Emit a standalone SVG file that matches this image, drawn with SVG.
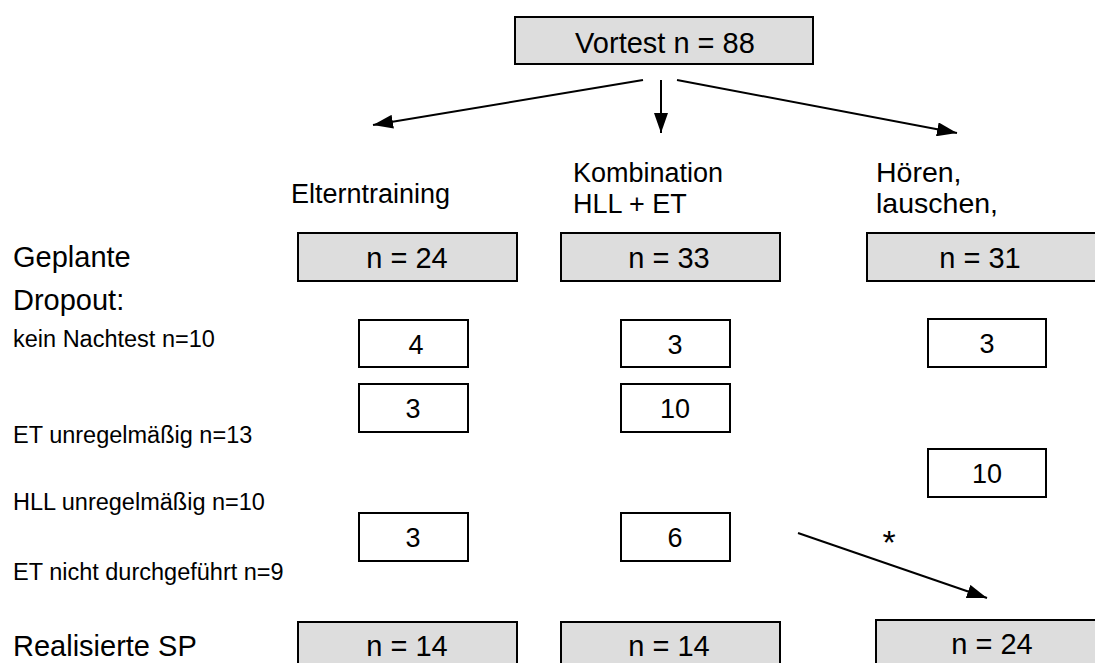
<svg xmlns="http://www.w3.org/2000/svg" width="1095" height="663" viewBox="0 0 1095 663">
<defs>
<marker id="ah" viewBox="0 0 20 14" refX="20" refY="7" markerWidth="20" markerHeight="14" markerUnits="userSpaceOnUse" orient="auto">
<path d="M0,0 L20,7 L0,14 Z" fill="#000"/>
</marker>
</defs>
<style>
text{font-family:"Liberation Sans",Arial,sans-serif;fill:#000}
.g{fill:#dddddd;stroke:#000;stroke-width:2}
.w{fill:#fff;stroke:#000;stroke-width:2}
.c{text-anchor:middle}
.big{font-size:29px}
.hd{font-size:27px}
.sm{font-size:23.5px}
.n{font-size:29px}
.d{font-size:27px}
.conn line{stroke:#000;stroke-width:2;marker-end:url(#ah)}
</style>
<rect width="1095" height="663" fill="#fff"/>

<g id="vortest">
<rect class="g" x="515" y="17" width="298" height="47"/>
<text class="big c" x="665" y="53">Vortest n = 88</text>
</g>

<g id="labels">
<text class="hd" x="291" y="203">Elterntraining</text>
<text class="hd" x="573" y="182">Kombination</text>
<text class="hd" x="573" y="213">HLL + ET</text>
<text class="hd" x="876" y="182" style="font-size:28.5px">Hören,</text>
<text class="hd" x="876" y="213" style="font-size:28.5px">lauschen,</text>
<text class="big" x="13" y="267">Geplante</text>
<text class="big" x="13" y="310">Dropout:</text>
<text class="sm" x="13" y="347">kein Nachtest n=10</text>
<text class="sm" x="13" y="443">ET unregelmäßig n=13</text>
<text class="sm" x="13" y="510">HLL unregelmäßig n=10</text>
<text class="sm" x="13" y="580">ET nicht durchgeführt n=9</text>
<text class="big" x="13" y="656">Realisierte SP</text>
</g>

<g id="geplant-et">
<rect class="g" x="298" y="233" width="219" height="48"/>
<text class="n c" x="407" y="268">n = 24</text>
</g>
<g id="geplant-komb">
<rect class="g" x="561" y="233" width="219" height="48"/>
<text class="n c" x="669" y="268">n = 33</text>
</g>
<g id="geplant-hll">
<rect class="g" x="867" y="233" width="240" height="48"/>
<text class="n c" x="980" y="268">n = 31</text>
</g>

<g id="d-et-1"><rect class="w" x="359" y="320" width="109" height="47"/><text class="d c" x="416" y="354">4</text></g>
<g id="d-et-2"><rect class="w" x="359" y="384" width="109" height="48"/><text class="d c" x="413" y="418">3</text></g>
<g id="d-et-3"><rect class="w" x="359" y="513" width="109" height="48"/><text class="d c" x="413" y="547">3</text></g>
<g id="d-komb-1"><rect class="w" x="621" y="320" width="109" height="47"/><text class="d c" x="675" y="354">3</text></g>
<g id="d-komb-2"><rect class="w" x="621" y="384" width="109" height="48"/><text class="d c" x="675" y="418">10</text></g>
<g id="d-komb-3"><rect class="w" x="621" y="513" width="109" height="48"/><text class="d c" x="675" y="547">6</text></g>
<g id="d-hll-1"><rect class="w" x="928" y="319" width="118" height="48"/><text class="d c" x="987" y="353">3</text></g>
<g id="d-hll-2"><rect class="w" x="928" y="449" width="118" height="48"/><text class="d c" x="987" y="483">10</text></g>

<g id="real-et">
<rect class="g" x="298" y="622" width="219" height="60"/>
<text class="n c" x="407" y="656">n = 14</text>
</g>
<g id="real-komb">
<rect class="g" x="561" y="622" width="219" height="60"/>
<text class="n c" x="669" y="656">n = 14</text>
</g>
<g id="real-hll">
<rect class="g" x="876" y="620" width="240" height="60"/>
<text class="n c" x="992" y="654">n = 24</text>
</g>

<g id="connectors" class="conn">
<line x1="643" y1="80" x2="373" y2="125"/>
<line x1="661" y1="80" x2="661" y2="133"/>
<line x1="677" y1="80" x2="957" y2="133"/>
<line x1="798" y1="533" x2="987" y2="598"/>
</g>
<text id="star" x="889" y="554" style="font-size:34px;text-anchor:middle">*</text>
</svg>
